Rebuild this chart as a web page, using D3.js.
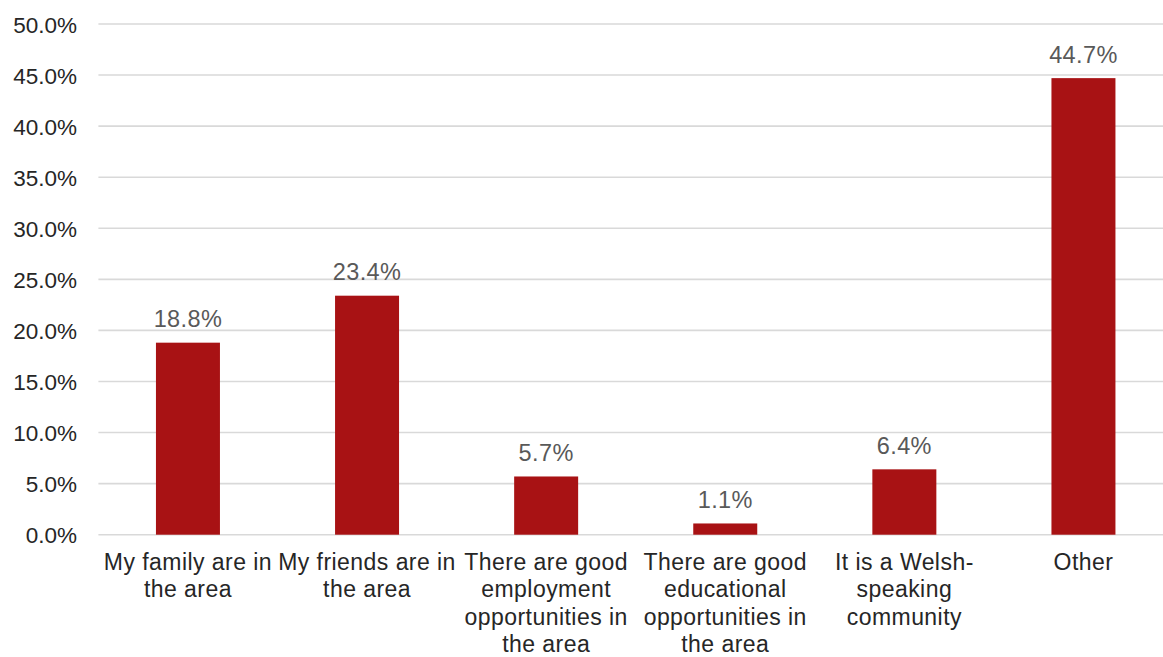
<!DOCTYPE html>
<html>
<head>
<meta charset="utf-8">
<script src="https://cdn.jsdelivr.net/npm/d3@7"></script>
<style>
  html, body { margin: 0; padding: 0; background: #ffffff; }
  svg { display: block; font-family: "Liberation Sans", Arial, sans-serif; }
</style>
</head>
<body>
<svg id="chart" width="1163" height="657"></svg>
<script>
// Reasons given for living in the area (share of respondents, %)
const categories = [
  "My family are in the area",
  "My friends are in the area",
  "There are good employment opportunities in the area",
  "There are good educational opportunities in the area",
  "It is a Welsh-speaking community",
  "Other"
];
// Wrapped category label lines
const categoryLines = [
  ["My family are in", "the area"],
  ["My friends are in", "the area"],
  ["There are good", "employment", "opportunities in", "the area"],
  ["There are good", "educational", "opportunities in", "the area"],
  ["It is a Welsh-", "speaking", "community"],
  ["Other"]
];
const values = [18.8, 23.4, 5.7, 1.1, 6.4, 44.7];
const yTicks = [0, 5, 10, 15, 20, 25, 30, 35, 40, 45, 50];

const svg = d3.select("#chart");
const plot = { left: 98.4, right: 1173, top: 24, bottom: 534.7 };

const x = d3.scaleBand()
  .domain(categories)
  .range([plot.left, plot.right])
  .paddingInner(0.6427)
  .paddingOuter(0.32135);

const y = d3.scaleLinear()
  .domain([0, 50])
  .range([plot.bottom, plot.top]);

// Horizontal gridlines
svg.append("g")
  .selectAll("line")
  .data(yTicks)
  .join("line")
  .attr("x1", plot.left)
  .attr("x2", plot.right)
  .attr("y1", d => y(d))
  .attr("y2", d => y(d))
  .attr("stroke", "#d9d9d9")
  .attr("stroke-width", 1.6);

// Y axis tick labels
const yAxis = d3.axisLeft(y)
  .tickValues(yTicks)
  .tickSize(0)
  .tickPadding(0)
  .tickFormat(d => d3.format(".1f")(d) + "%");

const yg = svg.append("g")
  .attr("transform", `translate(77,0)`)
  .call(yAxis);
yg.select(".domain").remove();
yg.selectAll("text")
  .attr("font-size", "22.5px")
  .attr("font-family", "Liberation Sans, Arial, sans-serif")
  .attr("fill", "#262626")
  .attr("dy", "0.36em");

// Bars
svg.append("g")
  .selectAll("rect")
  .data(values)
  .join("rect")
  .attr("x", (d, i) => x(categories[i]))
  .attr("width", x.bandwidth())
  .attr("y", d => y(d))
  .attr("height", d => y(0) - y(d))
  .attr("fill", "#a81214");

// Value labels above bars
svg.append("g")
  .selectAll("text")
  .data(values)
  .join("text")
  .attr("x", (d, i) => x(categories[i]) + x.bandwidth() / 2)
  .attr("y", d => y(d) - 15.5)
  .attr("text-anchor", "middle")
  .attr("font-size", "23.5px")
  .attr("letter-spacing", "0.4px")
  .attr("fill", "#595959")
  .text(d => d3.format(".1f")(d) + "%");

// Category labels (wrapped)
const cat = svg.append("g")
  .selectAll("text")
  .data(categories)
  .join("text")
  .attr("x", d => x(d) + x.bandwidth() / 2)
  .attr("y", 570)
  .attr("text-anchor", "middle")
  .attr("font-size", "23px")
  .attr("letter-spacing", "0.45px")
  .attr("fill", "#262626");

cat.each(function (d, i) {
  d3.select(this)
    .selectAll("tspan")
    .data(categoryLines[i])
    .join("tspan")
    .attr("x", x(d) + x.bandwidth() / 2)
    .attr("y", (l, j) => 570 + j * 27.4)
    .text(l => l);
});
</script>
</body>
</html>
